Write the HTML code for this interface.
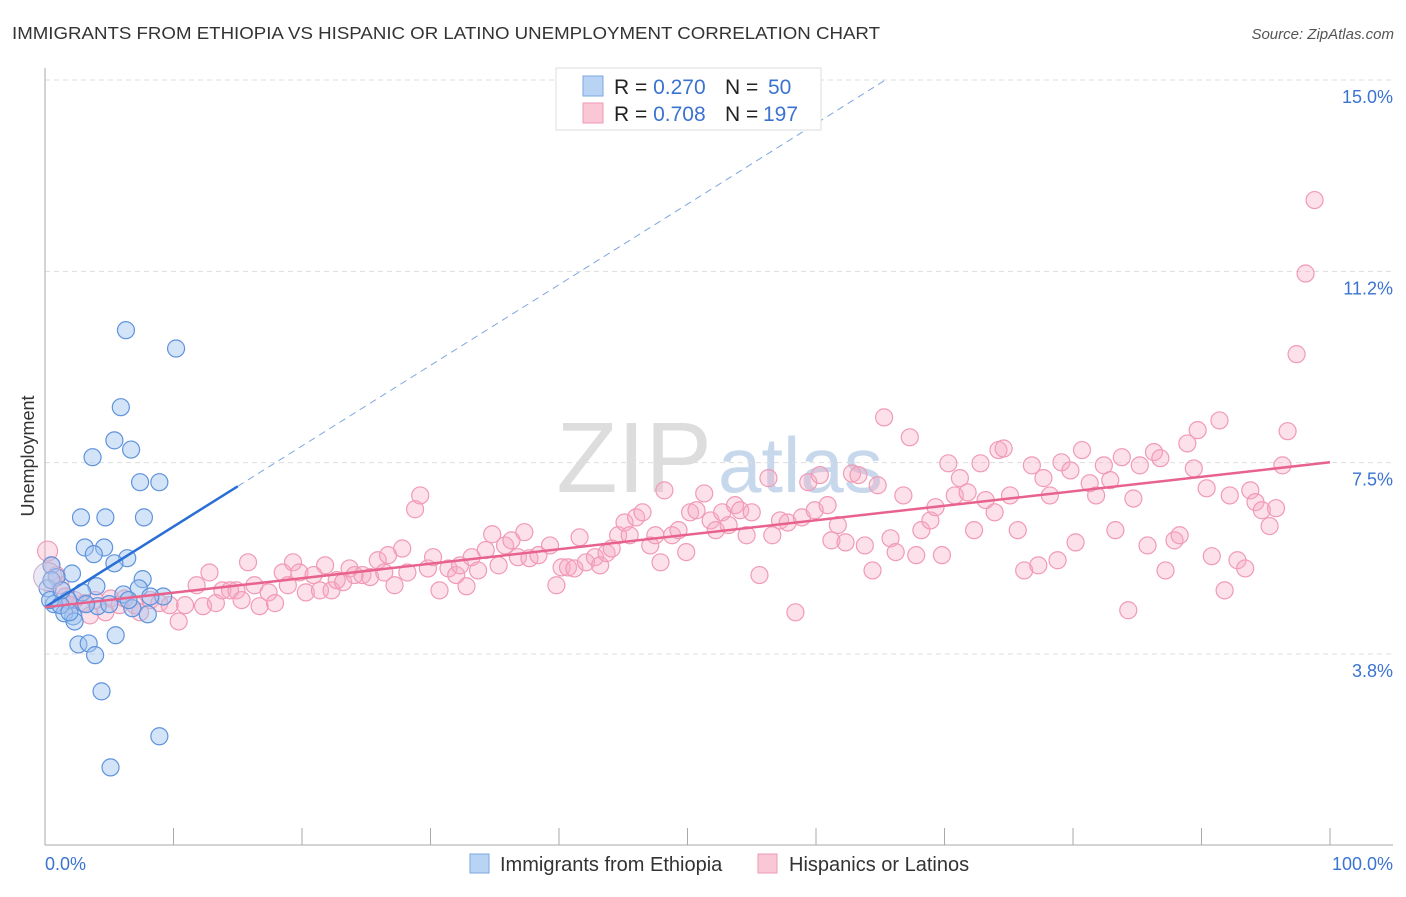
<!DOCTYPE html>
<html><head><meta charset="utf-8"><style>
body{margin:0;background:#fff;font-family:"Liberation Sans",sans-serif;}
svg text{font-family:"Liberation Sans",sans-serif;}
</style></head><body>
<svg id="c" width="1406" height="892">
<text x="12" y="39" font-size="17.5" fill="#333" textLength="868" lengthAdjust="spacingAndGlyphs">IMMIGRANTS FROM ETHIOPIA VS HISPANIC OR LATINO UNEMPLOYMENT CORRELATION CHART</text>
<text x="1394" y="39" font-size="15" fill="#555" text-anchor="end" font-style="italic">Source: ZipAtlas.com</text>
<text x="712" y="492" font-size="100" fill="#ddd" font-family="Liberation Serif" text-anchor="end">ZIP</text>
<text x="718" y="492" font-size="78" fill="#c8d8ec">atlas</text>
<g id="grid"></g><g id="pts"></g><g id="lines"></g>
<text x="34" y="456" font-size="18" fill="#333" transform="rotate(-90 34 456)" text-anchor="middle">Unemployment</text>
<text x="45" y="870" font-size="18" fill="#3b73d0">0.0%</text>
<text x="1393" y="870" font-size="18" fill="#3b73d0" text-anchor="end">100.0%</text>
<g>
<rect x="556" y="68" width="265" height="62" fill="#fff" stroke="#ddd"/>
<rect x="583" y="76" width="20" height="20" fill="#b9d3f5" stroke="#7aa7e0"/>
<rect x="583" y="103" width="20" height="20" fill="#f9c7d6" stroke="#ee9ab4"/>
<text x="614" y="94" font-size="21" fill="#222">R = <tspan fill="#3b73d0">0.270</tspan><tspan x="725">N = </tspan><tspan x="768" fill="#3b73d0">50</tspan></text>
<text x="614" y="121" font-size="21" fill="#222">R = <tspan fill="#3b73d0">0.708</tspan><tspan x="725">N = </tspan><tspan x="763" fill="#3b73d0">197</tspan></text>
</g>
<g>
<rect x="470" y="854" width="19" height="19" fill="#b9d3f5" stroke="#7aa7e0"/>
<text x="500" y="871" font-size="20" fill="#333">Immigrants from Ethiopia</text>
<rect x="758" y="854" width="19" height="19" fill="#f9c7d6" stroke="#ee9ab4"/>
<text x="789" y="871" font-size="20" fill="#333">Hispanics or Latinos</text>
</g>
</svg>
<script>
const yTicks=[15,11.25,7.5,3.75];
const yTickLabels=["15.0%","11.2%","7.5%","3.8%"];
const xTicks=[0,10,20,30,40,50,60,70,80,90,100];
const blueX=[6.3,10.2,5.9,5.4,6.7,3.7,7.4,8.9,2.8,4.7,7.7,3.1,4.6,3.8,6.4,5.4,2.1,0.5,0.9,7.6,4.0,7.3,0.2,2.9,6.1,9.2,1.8,0.7,4.1,6.8,8.0,2.2,1.5,2.3,5.5,2.6,3.4,3.9,4.4,8.9,5.1,0.4,1.2,3.2,1.9,6.5,0.5,1.3,5.0,8.2];
const blueY=[10.43,10.07,8.92,8.27,8.09,7.94,7.45,7.45,6.76,6.76,6.76,6.17,6.17,6.04,5.96,5.86,5.66,5.82,5.59,5.55,5.41,5.37,5.37,5.29,5.25,5.21,5.14,5.06,5.02,4.98,4.86,4.82,4.88,4.72,4.45,4.27,4.29,4.06,3.35,2.47,1.86,5.14,5.04,5.06,4.90,5.14,5.53,5.33,5.06,5.21];
const pinkX=[0.2,0.5,0.9,1.2,1.6,1.9,2.3,3.1,3.5,3.9,4.7,5.1,5.8,6.2,7.0,7.4,8.2,8.9,9.7,10.4,10.9,11.8,12.3,12.8,13.3,13.8,14.4,14.9,15.3,15.8,16.3,16.7,17.4,17.9,18.5,18.9,19.3,19.8,20.3,20.9,21.4,21.8,22.3,22.7,23.2,23.7,24.1,24.7,25.3,25.9,26.4,26.7,27.2,27.8,28.2,28.8,29.2,29.8,30.2,30.7,31.4,32.0,32.3,32.8,33.2,33.7,34.3,34.8,35.3,35.8,36.3,36.8,37.3,37.7,38.4,39.3,39.8,40.2,40.7,41.2,41.6,42.1,42.8,43.2,43.7,44.1,44.6,45.1,45.5,46.0,46.5,47.1,47.5,47.9,48.2,48.8,49.3,49.9,50.2,50.7,51.3,51.8,52.2,52.7,53.2,53.7,54.1,54.6,55.0,55.6,56.3,56.6,57.2,57.8,58.4,58.9,59.4,59.9,60.3,60.9,61.2,61.7,62.3,62.8,63.3,63.8,64.4,64.8,65.3,65.8,66.2,66.8,67.3,67.8,68.2,68.9,69.3,69.8,70.3,70.8,71.2,71.8,72.3,72.8,73.2,73.9,74.2,74.6,75.1,75.7,76.2,76.8,77.3,77.7,78.2,78.8,79.1,79.8,80.2,80.7,81.3,81.8,82.4,82.9,83.3,83.8,84.3,84.7,85.2,85.8,86.3,86.8,87.2,87.9,88.3,88.9,89.4,89.7,90.4,90.8,91.4,91.8,92.2,92.8,93.4,93.8,94.2,94.7,95.3,95.8,96.3,96.7,97.4,98.1,98.8];
const pinkY=[6.10,5.82,5.63,5.43,5.21,5.04,5.14,5.08,4.84,5.14,4.90,5.17,5.04,5.17,5.04,4.90,5.14,5.08,5.04,4.72,5.04,5.43,5.02,5.68,5.08,5.33,5.33,5.33,5.14,5.88,5.43,5.02,5.29,5.08,5.68,5.43,5.88,5.68,5.29,5.63,5.33,5.82,5.33,5.53,5.49,5.76,5.63,5.63,5.59,5.92,5.68,6.02,5.43,6.15,5.68,6.92,7.19,5.76,5.98,5.33,5.76,5.63,5.82,5.41,5.98,5.72,6.12,6.43,5.82,6.21,6.31,5.98,6.47,5.96,6.02,6.21,5.43,5.78,5.78,5.76,6.37,5.88,5.98,5.82,6.06,6.15,6.41,6.66,6.41,6.76,6.86,6.21,6.41,5.88,7.29,6.41,6.51,6.08,6.86,6.90,7.23,6.70,6.51,6.86,6.61,7.00,6.90,6.41,6.86,5.63,7.53,6.41,6.70,6.66,4.90,6.76,7.45,6.90,7.59,7.00,6.31,6.61,6.27,7.62,7.59,6.21,5.72,7.39,8.72,6.35,6.08,7.19,8.33,6.02,6.51,6.70,6.96,6.02,7.82,7.19,7.53,7.25,6.51,7.82,7.10,6.86,8.08,8.11,7.19,6.51,5.72,7.78,5.82,7.53,7.19,5.92,7.84,7.68,6.27,8.08,7.43,7.19,7.78,7.49,6.51,7.94,4.94,7.13,7.78,6.21,8.04,7.92,5.72,6.31,6.41,8.21,7.72,8.47,7.33,6.00,8.66,5.33,7.19,5.92,5.76,7.29,7.06,6.90,6.59,6.94,7.78,8.45,9.96,11.54,12.98];
const blueTrend=[5.0,0.158];
const pinkTrend=[5.0,0.0284];
const NS="http://www.w3.org/2000/svg";
function xs(v){return 45+12.85*v;}
function ys(v){return 845.3-51.02*(v-0.333);}
function mk(t,a,parent){const e=document.createElementNS(NS,t);for(const k in a)e.setAttribute(k,a[k]);parent.appendChild(e);return e;}
const grid=document.getElementById('grid'),svg=document.getElementById('c');
yTicks.forEach((t,i)=>{
 const gy=845.3-51.02*t;
 const l=mk('line',{x1:45,x2:1393,y1:gy,y2:gy,stroke:'#ddd','stroke-dasharray':'5,4'},grid);
 
 
 const tx=mk('text',{x:1393,y:gy+23,'font-size':18,fill:'#3b73d0','text-anchor':'end'},grid);
 tx.textContent=yTickLabels[i];
 
 
});
const ax=mk('line',{x1:45,x2:45,y1:68,y2:845,stroke:'#aaa'},grid);


const bx=mk('line',{x1:45,x2:1393,y1:845,y2:845,stroke:'#aaa'},grid);


xTicks.forEach(t=>{const l=mk('line',{x1:xs(t),x2:xs(t),y1:828,y2:845,stroke:'#aaa'},grid);
 
 });
const pts=document.getElementById('pts');
pinkX.forEach((x,i)=>{const c=mk('circle',{cx:xs(x),cy:ys(pinkY[i]),r:i==0?10:8.5,fill:'rgba(246,170,195,0.35)',stroke:'#f19ab5','stroke-width':1.2},pts);
 
 });
blueX.forEach((x,i)=>{const c=mk('circle',{cx:xs(x),cy:ys(blueY[i]),r:8.5,fill:'rgba(160,196,240,0.45)',stroke:'#5f93dc','stroke-width':1.2},pts);
 
 });
const big=mk('circle',{cx:xs(0.2),cy:ys(5.6),r:14,fill:'rgba(200,200,230,0.4)',stroke:'#c9a9c9'},pts);


const lines=document.getElementById('lines');
const bEnd=(15.33-blueTrend[0])/blueTrend[1];
const l1=mk('line',{x1:xs(0),y1:ys(blueTrend[0]),x2:xs(15),y2:ys(blueTrend[0]+15*blueTrend[1]),stroke:'#2a6fd6','stroke-width':2.5},lines);


const l2=mk('line',{x1:xs(15),y1:ys(blueTrend[0]+15*blueTrend[1]),x2:xs(bEnd),y2:ys(15.33),stroke:'#7ea6e0','stroke-width':1,'stroke-dasharray':'7,5'},lines);


const l3=mk('line',{x1:xs(0),y1:ys(pinkTrend[0]),x2:xs(100),y2:ys(pinkTrend[0]+100*pinkTrend[1]),stroke:'#e8628e','stroke-width':2.5},lines);


</script>
</body></html>
